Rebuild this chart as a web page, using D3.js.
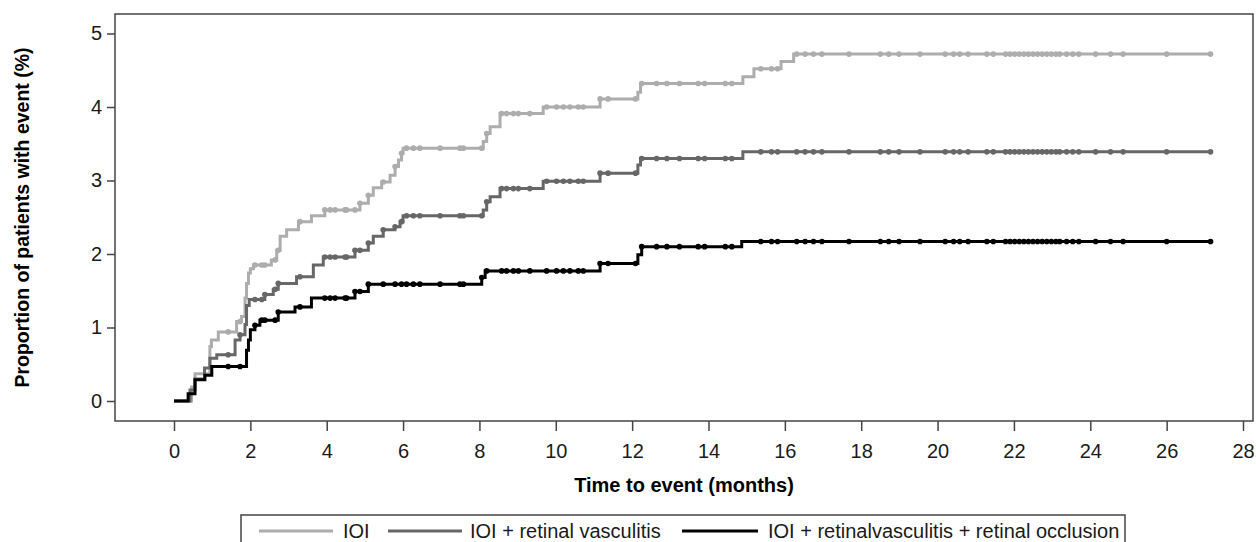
<!DOCTYPE html>
<html>
<head>
<meta charset="utf-8">
<script src="https://cdn.jsdelivr.net/npm/d3@7"></script>
<style>
  body { margin: 0; background: #fff; }
  text { font-family: "Liberation Sans", Arial, sans-serif; }
</style>
</head>
<body>
<svg id="chart" width="1256" height="542"></svg>
<script>
// step times (months) and cumulative proportions (%) for each group
const ioiTimes = [0, 0.46, 0.55, 0.94, 0.98, 1.16, 1.64, 1.77, 1.86, 1.90, 1.95, 2.0, 2.08, 2.55, 2.69, 2.78, 2.95, 3.26, 3.6, 3.95, 4.87, 5.09, 5.22, 5.44, 5.66, 5.79, 5.88, 5.96, 6.0, 8.1, 8.19, 8.28, 8.54, 9.67, 11.16, 12.15, 12.22, 14.9, 15.19, 15.9, 16.23];
const ioiValues = [0, 0.19, 0.37, 0.74, 0.83, 0.94, 1.08, 1.15, 1.40, 1.60, 1.74, 1.80, 1.85, 1.92, 2.05, 2.24, 2.33, 2.44, 2.52, 2.60, 2.69, 2.80, 2.90, 2.98, 3.07, 3.19, 3.28, 3.37, 3.44, 3.53, 3.64, 3.73, 3.91, 4.00, 4.11, 4.20, 4.32, 4.41, 4.52, 4.62, 4.72];

const rvTimes = [0, 0.42, 0.55, 0.8, 0.94, 1.12, 1.6, 1.73, 1.86, 1.9, 1.97, 2.38, 2.6, 2.73, 3.21, 3.65, 3.91, 4.74, 5.09, 5.22, 5.48, 5.79, 5.92, 6.0, 8.1, 8.19, 8.28, 8.54, 9.67, 11.16, 12.15, 12.22, 14.9];
const rvValues = [0, 0.15, 0.30, 0.45, 0.58, 0.63, 0.83, 0.90, 1.04, 1.30, 1.38, 1.45, 1.52, 1.60, 1.69, 1.85, 1.96, 2.05, 2.15, 2.24, 2.33, 2.37, 2.44, 2.52, 2.60, 2.71, 2.78, 2.89, 2.99, 3.10, 3.21, 3.30, 3.39];

const occTimes = [0, 0.37, 0.55, 0.81, 0.99, 1.9, 1.95, 2.0, 2.12, 2.25, 2.73, 3.17, 3.6, 4.74, 5.09, 8.06, 8.15, 11.16, 12.15, 12.25, 14.87];
const occValues = [0, 0.10, 0.29, 0.35, 0.47, 0.69, 0.83, 0.97, 1.03, 1.10, 1.21, 1.28, 1.40, 1.49, 1.59, 1.68, 1.77, 1.87, 1.99, 2.10, 2.17];

// censored observations (shared follow-up times)
const censorTimes = [1.42, 1.73, 2.12, 2.3, 2.38, 2.65, 2.73, 3.3, 3.95, 4.09, 4.22, 4.48, 4.52, 4.74, 4.87, 5.09, 5.48, 5.79, 5.96, 6.09, 6.27, 6.44, 6.97, 7.49, 7.58, 8.06, 8.19, 8.58, 8.71, 8.89, 9.02, 9.32, 9.76, 10.02, 10.2, 10.37, 10.59, 10.72, 11.16, 11.37, 12.09, 12.25, 12.64, 12.91, 13.24, 13.73, 13.9, 14.44, 14.61, 15.37, 15.65, 15.81, 16.31, 16.53, 16.75, 16.97, 17.68, 18.5, 18.72, 18.99, 19.54, 20.2, 20.42, 20.58, 20.8, 21.29, 21.46, 21.78, 21.9, 22.02, 22.14, 22.26, 22.38, 22.5, 22.62, 22.74, 22.86, 22.98, 23.1, 23.2, 23.38, 23.54, 23.7, 24.14, 24.53, 24.86, 26.0, 27.15];
const followUpEnd = 27.15;

const xTicks = d3.range(0, 29, 2);
const yTicks = [0, 1, 2, 3, 4, 5];

const seriesNames = ['IOI', 'IOI + retinal vasculitis', 'IOI + retinalvasculitis + retinal occlusion'];
const seriesColors = ['#adadad', '#676767', '#000000'];

const series = [
    { times: ioiTimes, values: ioiValues },
    { times: rvTimes, values: rvValues },
    { times: occTimes, values: occValues }
];

const svg = d3.select('#chart');
const plotLeft = 115, plotRight = 1253, plotTop = 14, plotBottom = 421;

const x = d3.scaleLinear().domain([0, 28]).range([174, 1243]);
const y = d3.scaleLinear().domain([0, 5]).range([401, 33.5]);

// frame
svg.append('rect')
    .attr('x', plotLeft).attr('y', plotTop)
    .attr('width', plotRight - plotLeft).attr('height', plotBottom - plotTop)
    .attr('fill', 'none').attr('stroke', '#444').attr('stroke-width', 1.5);

// axes
const xAxis = svg.append('g')
    .attr('transform', `translate(0,${plotBottom})`)
    .call(d3.axisBottom(x).tickValues(xTicks).tickSize(10).tickPadding(13));
const yAxis = svg.append('g')
    .attr('transform', `translate(${plotLeft},0)`)
    .call(d3.axisLeft(y).tickValues(yTicks).tickFormat(d3.format('d')).tickSize(8).tickPadding(5));

[xAxis, yAxis].forEach(a => {
    a.select('.domain').remove();
    a.selectAll('line').attr('stroke', '#444').attr('stroke-width', 1.5);
    a.selectAll('text').attr('font-size', 20).attr('fill', '#1a1a1a')
        .style('font-family', '"Liberation Sans", Arial, sans-serif');
});

svg.append('text')
    .attr('x', (plotLeft + plotRight) / 2).attr('y', 492)
    .attr('text-anchor', 'middle')
    .attr('font-size', 20).attr('font-weight', 'bold')
    .text('Time to event (months)');

svg.append('text')
    .attr('transform', `translate(29,${(plotTop + plotBottom) / 2}) rotate(-90)`)
    .attr('text-anchor', 'middle')
    .attr('font-size', 19.5).attr('font-weight', 'bold')
    .text('Proportion of patients with event (%)');

// curves
const line = d3.line()
    .x(d => x(d[0]))
    .y(d => y(d[1]))
    .curve(d3.curveStepAfter);

function valueAt(s, t) {
    const i = d3.bisectRight(s.times, t) - 1;
    return s.values[Math.max(0, i)];
}

series.forEach((s, k) => {
    const pts = s.times.map((t, i) => [t, s.values[i]]);
    pts.push([followUpEnd, s.values[s.values.length - 1]]);
    svg.append('path')
        .datum(pts)
        .attr('d', line)
        .attr('fill', 'none')
        .attr('stroke', seriesColors[k])
        .attr('stroke-width', 3);

    svg.append('g').selectAll('circle')
        .data(censorTimes)
        .enter()
        .append('circle')
        .attr('cx', t => x(t))
        .attr('cy', t => y(valueAt(s, t)))
        .attr('r', 2.8)
        .attr('fill', seriesColors[k]);
});

// legend
const legend = svg.append('g');
legend.append('rect')
    .attr('x', 241).attr('y', 515)
    .attr('width', 884).attr('height', 32)
    .attr('fill', 'none').attr('stroke', '#444').attr('stroke-width', 1.5);

const legendItems = [
    { x1: 259, x2: 333, tx: 343 },
    { x1: 388, x2: 462, tx: 470 },
    { x1: 682, x2: 758, tx: 768 }
];
legendItems.forEach((d, k) => {
    legend.append('line')
        .attr('x1', d.x1).attr('x2', d.x2)
        .attr('y1', 531).attr('y2', 531)
        .attr('stroke', seriesColors[k]).attr('stroke-width', 3);
    legend.append('text')
        .attr('x', d.tx).attr('y', 538)
        .attr('font-size', 20)
        .attr('fill', '#1a1a1a')
        .text(seriesNames[k]);
});
</script>
</body>
</html>
